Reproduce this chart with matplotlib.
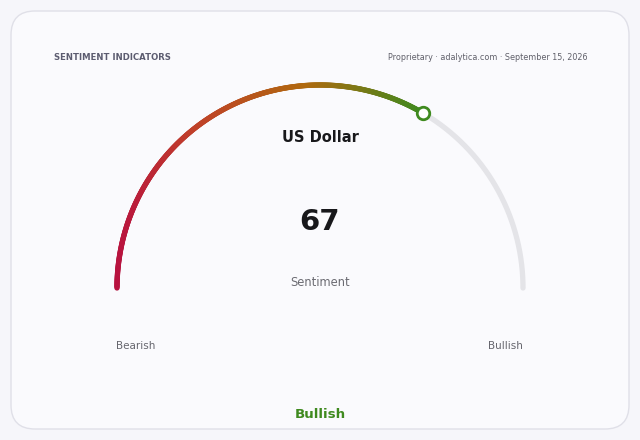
import numpy as np
import matplotlib
matplotlib.use("Agg")
import matplotlib.pyplot as plt
from matplotlib.collections import LineCollection
from matplotlib.colors import LinearSegmentedColormap
from matplotlib.patches import FancyBboxPatch

plt.rcParams["font.family"] = ["DejaVu Sans"]

# data
asset_name = "US Dollar"
gauge_value = 67
gauge_min, gauge_max = 0, 100
end_labels = ["Bearish", "Bullish"]
verdict = "Bullish"
value_caption = "Sentiment"
header_left = "SENTIMENT INDICATORS"
header_right = "Proprietary · adalytica.com · September 15, 2026"

# colours
BG = "#f6f6fa"
CARD = "#fafafd"
TRACK = "#e4e4e8"
GRAD = [(0.0, "#b8123f"), (0.25, "#c0402a"), (0.62, "#b0690e"), (1.0, "#3f8a1f")]
GREEN = "#3f8a1f"

W, H = 640, 440
fig = plt.figure(figsize=(6.4, 4.4), dpi=100)
fig.patch.set_facecolor(BG)
ax = fig.add_axes([0, 0, 1, 1])
ax.set_xlim(0, W)
ax.set_ylim(H, 0)
ax.axis("off")

card = FancyBboxPatch((11, 11), 618, 418, boxstyle="round,pad=0,rounding_size=24",
                      facecolor=CARD, edgecolor="#e0e0e8", linewidth=1.0)
ax.add_patch(card)

cx, cy, r = 320, 288, 203


def to_angle(v):
    frac = (v - gauge_min) / (gauge_max - gauge_min)
    return np.pi * (1 - frac)


# grey track
t = np.linspace(to_angle(gauge_min), to_angle(gauge_max), 300)
ax.plot(cx + r * np.cos(t), cy - r * np.sin(t), color=TRACK, lw=3.8,
        solid_capstyle="round", zorder=2)

# coloured arc, gradient runs left to right across the drawn arc
vals = np.linspace(gauge_min, gauge_value, 400)
ang = to_angle(vals)
xs = cx + r * np.cos(ang)
ys = cy - r * np.sin(ang)
pts = np.column_stack([xs, ys]).reshape(-1, 1, 2)
segs = np.concatenate([pts[:-1], pts[1:]], axis=1)
xmid = (xs[:-1] + xs[1:]) / 2
gfrac = (xmid - xs.min()) / (xs.max() - xs.min())
cmap = LinearSegmentedColormap.from_list("sent", GRAD)
lc = LineCollection(segs, colors=cmap(gfrac), linewidths=3.8,
                    capstyle="round", zorder=3)
ax.add_collection(lc)

# marker at value
ax.plot(xs[-1], ys[-1], "o", ms=9, mfc="white", mec=GREEN, mew=2.0, zorder=4)

# texts
ax.text(54, 58, header_left, fontsize=6.1, fontweight="bold", color="#5c5c70",
        ha="left", va="center")
ax.text(587, 58, header_right, fontsize=5.8, color="#60606a", ha="right", va="center")
ax.text(cx, 137, asset_name, fontsize=10.5, fontweight="bold", color="#18181b",
        ha="center", va="center")
ax.text(cx, 222, f"{gauge_value}", fontsize=21, fontweight="bold", color="#18181b",
        ha="center", va="center")
ax.text(cx, 282, value_caption, fontsize=8.3, color="#6b6b72", ha="center", va="center")
ax.text(136, 346, end_labels[0], fontsize=7.5, color="#66666e", ha="center", va="center")
ax.text(505, 346, end_labels[1], fontsize=7.5, color="#66666e", ha="center", va="center")
ax.text(cx, 414, verdict, fontsize=9.6, fontweight="bold", color=GREEN,
        ha="center", va="center")

fig.savefig("out.png", dpi=100, facecolor=BG)
